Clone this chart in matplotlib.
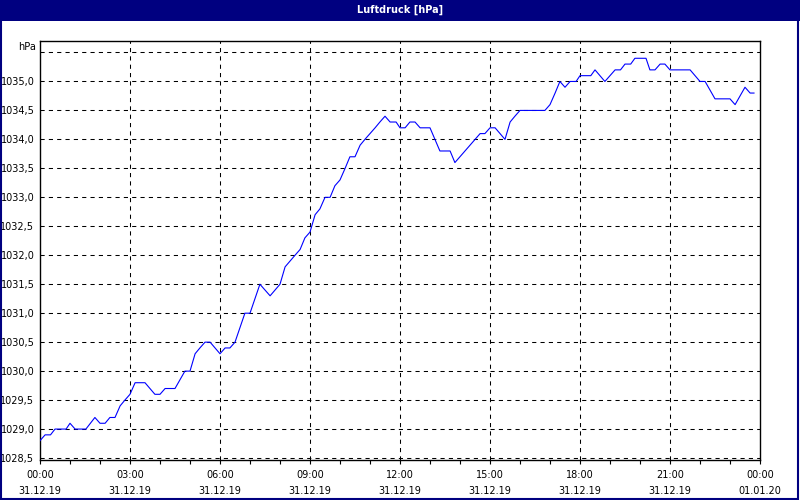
import numpy as np
import matplotlib
matplotlib.use("Agg")
import matplotlib.pyplot as plt
from matplotlib.patches import Rectangle
from matplotlib.ticker import FixedLocator, MultipleLocator

# hours since 31.12.19 00:00 and pressure in hPa
hours = [0, 0.17, 0.35, 0.5, 0.87, 1.0, 1.17, 1.53, 1.83, 2.0, 2.17, 2.33,
         2.5, 2.67, 2.83, 3.0, 3.17, 3.5, 3.83, 4.0, 4.17, 4.5, 4.83, 5.0,
         5.17, 5.33, 5.5, 5.67, 6.0, 6.17, 6.33, 6.5, 6.83, 7.0, 7.33, 7.67,
         8.0, 8.17, 8.5, 8.67, 8.83, 9.0, 9.17, 9.33, 9.5, 9.67, 9.83, 10.0,
         10.17, 10.33, 10.5, 10.67, 10.83, 11.0, 11.17, 11.33, 11.5, 11.67,
         11.87, 12.0, 12.17, 12.33, 12.5, 12.67, 13.0, 13.33, 13.67, 13.83,
         14.67, 14.83, 15.0, 15.17, 15.5, 15.67, 15.83, 16.0, 16.83, 17.0,
         17.17, 17.33, 17.5, 17.67, 17.87, 18.0, 18.36, 18.5, 18.83, 19.17,
         19.35, 19.5, 19.69, 19.83, 20.2, 20.33, 20.5, 20.67, 20.83, 21.0,
         21.67, 22.0, 22.17, 22.5, 23.0, 23.17, 23.5, 23.67, 23.8]
pressure = [1028.8, 1028.9, 1028.9, 1029.0, 1029.0, 1029.1, 1029.0, 1029.0,
            1029.2, 1029.1, 1029.1, 1029.2, 1029.2, 1029.4, 1029.5, 1029.6,
            1029.8, 1029.8, 1029.6, 1029.6, 1029.7, 1029.7, 1030.0, 1030.0,
            1030.3, 1030.4, 1030.5, 1030.5, 1030.3, 1030.4, 1030.4, 1030.5,
            1031.0, 1031.0, 1031.5, 1031.3, 1031.5, 1031.8, 1032.0, 1032.1,
            1032.3, 1032.4, 1032.7, 1032.8, 1033.0, 1033.0, 1033.2, 1033.3,
            1033.5, 1033.7, 1033.7, 1033.9, 1034.0, 1034.1, 1034.2, 1034.3,
            1034.4, 1034.3, 1034.3, 1034.2, 1034.2, 1034.3, 1034.3, 1034.2,
            1034.2, 1033.8, 1033.8, 1033.6, 1034.1, 1034.1, 1034.2, 1034.2,
            1034.0, 1034.3, 1034.4, 1034.5, 1034.5, 1034.6, 1034.8, 1035.0,
            1034.9, 1035.0, 1035.0, 1035.1, 1035.1, 1035.2, 1035.0, 1035.2,
            1035.2, 1035.3, 1035.3, 1035.4, 1035.4, 1035.2, 1035.2, 1035.3,
            1035.3, 1035.2, 1035.2, 1035.0, 1035.0, 1034.7, 1034.7, 1034.6,
            1034.9, 1034.8, 1034.8]

x_ticks = [0, 3, 6, 9, 12, 15, 18, 21, 24]
x_labels = ["00:00\n31.12.19", "03:00\n31.12.19", "06:00\n31.12.19",
            "09:00\n31.12.19", "12:00\n31.12.19", "15:00\n31.12.19",
            "18:00\n31.12.19", "21:00\n31.12.19", "00:00\n01.01.20"]
y_grid = [1028.5, 1029.0, 1029.5, 1030.0, 1030.5, 1031.0, 1031.5,
          1032.0, 1032.5, 1033.0, 1033.5, 1034.0, 1034.5, 1035.0, 1035.5]

navy = "#000080"
fs = 7

fig = plt.figure(figsize=(8, 5), dpi=100, facecolor="white")

# title bar and window frame
fig.patches.append(Rectangle((0, 0.959), 1, 0.041, transform=fig.transFigure,
                             facecolor=navy, edgecolor="none", zorder=0))
fig.patches.append(Rectangle((0.001, 0.002), 0.997, 0.996, transform=fig.transFigure,
                             facecolor="none", edgecolor=navy, linewidth=1.5, zorder=5))
fig.text(0.5, 0.98, "Luftdruck [hPa]", color="white", fontsize=fs,
         fontweight="bold", ha="center", va="center")

ax = fig.add_axes([0.05, 0.08, 0.90, 0.839])
ax.plot(hours, pressure, color="#0000ff", linewidth=0.8, zorder=3)

ax.set_xlim(0, 24)
ax.set_ylim(1028.466, 1035.707)

for v in y_grid:
    ax.axhline(v, color="black", linewidth=0.75, dashes=(4, 4), zorder=1)
for v in x_ticks[1:-1]:
    ax.axvline(v, color="black", linewidth=0.75, dashes=(4, 4), zorder=1)

ax.xaxis.set_major_locator(FixedLocator(x_ticks))
ax.set_xticklabels(x_labels, fontsize=fs, linespacing=1.75)
ax.xaxis.set_minor_locator(MultipleLocator(1))
ax.tick_params(axis="x", which="both", length=3, width=0.8, pad=4)

label_vals = y_grid[:-1]
ax.set_yticks(label_vals)
ax.set_yticklabels([f"{v:.1f}".replace(".", ",") for v in label_vals], fontsize=fs)
ax.tick_params(axis="y", length=0, pad=4)
ax.text(-0.005, 0.985, "hPa", transform=ax.transAxes, fontsize=fs,
        ha="right", va="center")

for s in ax.spines.values():
    s.set_linewidth(1.0)
    s.set_color("black")

fig.savefig("out.png", dpi=100, facecolor="white")
